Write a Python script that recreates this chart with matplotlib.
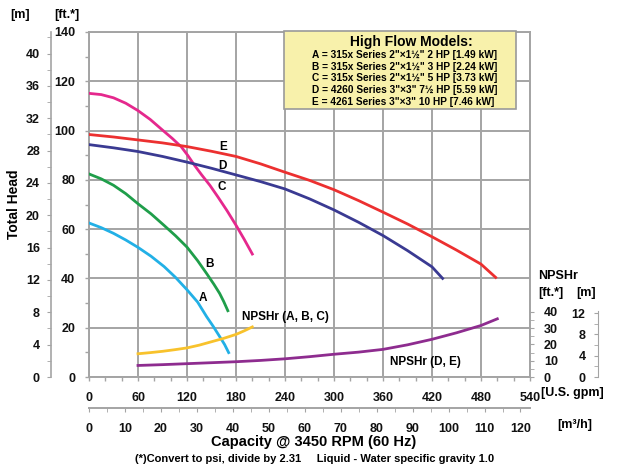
import matplotlib
matplotlib.use('Agg')
import matplotlib.pyplot as plt
from matplotlib.patches import Rectangle
from matplotlib.ticker import MultipleLocator, FixedLocator

plt.rcParams['font.family'] = ['Liberation Sans', 'DejaVu Sans']
plt.rcParams['font.weight'] = 'bold'

# ---------------- data ----------------
gpm_a = [0, 15, 30, 45, 60, 76, 92, 106, 120, 133, 144, 152, 160, 166, 171]
head_a = [62.5, 60.6, 58.3, 55.6, 52.6, 49.0, 44.8, 40.4, 35.4, 30.4, 24.5, 20.6, 16.4, 13.2, 9.9]

gpm_b = [0, 15, 30, 45, 60, 76, 92, 106, 120, 133, 144, 153, 160, 165, 170]
head_b = [82.4, 80.4, 77.8, 74.4, 70.3, 66.2, 61.5, 57.3, 52.7, 47.2, 42.0, 37.6, 33.9, 30.6, 26.9]

gpm_c = [0, 15, 30, 45, 60, 75, 90, 102, 113, 121, 129, 138, 148, 158, 169, 180, 190, 200]
head_c = [115.1, 114.6, 113.3, 111.1, 108.1, 104.5, 100.2, 96.8, 93.4, 89.9, 86.0, 82.0,
          77.8, 73.0, 67.5, 61.6, 55.9, 49.9]

gpm_d = [0, 30, 60, 90, 120, 150, 180, 210, 240, 270, 300, 330, 360, 390, 420, 433]
head_d = [94.3, 93.0, 91.5, 89.5, 87.2, 84.7, 82.0, 79.3, 76.3, 72.3, 67.8, 62.8, 57.4,
          51.3, 44.7, 40.0]

gpm_e = [0, 30, 60, 90, 120, 150, 180, 210, 240, 270, 300, 330, 360, 390, 420, 450, 480, 498]
head_e = [98.4, 97.4, 96.2, 95.0, 93.5, 91.6, 89.5, 86.5, 83.1, 79.8, 76.0, 71.6, 66.9,
          62.1, 56.9, 51.5, 45.8, 40.4]

gpm_npsh_abc = [60, 75, 90, 105, 120, 135, 150, 165, 180, 190, 200]
npsh_abc = [14.3, 15.0, 15.8, 16.8, 17.9, 19.6, 21.7, 23.8, 26.2, 28.4, 30.8]

gpm_npsh_de = [60, 90, 120, 150, 180, 210, 240, 270, 300, 330, 360, 390, 420, 450, 480, 500]
npsh_de = [7.1, 7.6, 8.2, 8.8, 9.4, 10.2, 11.2, 12.5, 14.0, 15.3, 17.0, 19.8, 23.2, 27.2, 31.7, 35.8]

legend_title = "High Flow Models:"
legend_lines = [
    'A = 315x Series 2"\u00d71\u00bd" 2 HP [1.49 kW]',
    'B = 315x Series 2"\u00d71\u00bd" 3 HP [2.24 kW]',
    'C = 315x Series 2"\u00d71\u00bd" 5 HP [3.73 kW]',
    'D = 4260 Series 3"\u00d73" 7\u00bd HP [5.59 kW]',
    'E = 4261 Series 3"\u00d73" 10 HP [7.46 kW]',
]
gpm_ticks = [0, 60, 120, 180, 240, 300, 360, 420, 480, 540]
ft_ticks = [0, 20, 40, 60, 80, 100, 120, 140]
m_ticks = [0, 4, 8, 12, 16, 20, 24, 28, 32, 36, 40]
m3h_ticks = [0, 10, 20, 30, 40, 50, 60, 70, 80, 90, 100, 110, 120]
npsh_ft_ticks = [0, 10, 20, 30, 40]
npsh_m_ticks = [0, 4, 8, 12]

# ---------------- layout ----------------
W, H = 617, 468
fig = plt.figure(figsize=(W / 100, H / 100), dpi=100)
L, R, B, T = 89, 530, 377, 32
ax = fig.add_axes([L / W, 1 - B / H, (R - L) / W, (B - T) / H])

def fx(x):
    return x / W

def fy(y):
    return 1 - y / H

GRID = '#a4a4a4'
FT_TO_M = 1 / 3.2808
GPM_TO_M3H = 0.22712
NPSH_TOP = 212.3  # NPSHr ft at top of plot area

ax.set_xlim(0, 540)
ax.set_ylim(0, 140)
ax.set_xticks(gpm_ticks)
ax.set_yticks(ft_ticks)
ax.xaxis.set_minor_locator(MultipleLocator(20))
ax.yaxis.set_minor_locator(MultipleLocator(10))
ax.grid(True, which='major', color=GRID, lw=1.4)
ax.set_axisbelow(True)
for s in ax.spines.values():
    s.set_color(GRID)
    s.set_linewidth(1.4)
ax.tick_params(which='both', colors=GRID, labelcolor='#111111', length=3, width=1)
ax.tick_params(axis='y', which='both', pad=7, labelsize=9)
ax.tick_params(axis='x', which='both', pad=8, labelsize=9)
for t in ax.get_xticklabels() + ax.get_yticklabels():
    t.set_fontweight('bold')

lw = 2.0
ax.plot(gpm_a, head_a, color='#22b0e6', lw=lw, zorder=3)
ax.plot(gpm_b, head_b, color='#1f9e4a', lw=lw, zorder=3)
ax.plot(gpm_c, head_c, color='#e5288d', lw=lw, zorder=3)
ax.plot(gpm_d, head_d, color='#3a3a92', lw=lw, zorder=3)
ax.plot(gpm_e, head_e, color='#ec3030', lw=lw, zorder=3)

lab = dict(fontsize=8.5, fontweight='bold', ha='center', va='center', zorder=4)
ax.text(164, 93.5, 'E', **lab)
ax.text(164, 85.8, 'D', **lab)
ax.text(163, 77.0, 'C', **lab)
ax.text(148, 45.9, 'B', **lab)
ax.text(139, 32.0, 'A', **lab)

# NPSHr axis (ft)
ax_n = ax.twinx()
ax_n.set_ylim(0, NPSH_TOP)
ax_n.patch.set_visible(False)
for s in ax_n.spines.values():
    s.set_visible(False)
ax_n.yaxis.set_major_locator(FixedLocator(npsh_ft_ticks))
ax_n.yaxis.set_minor_locator(FixedLocator([5, 15, 25, 35]))
ax_n.tick_params(axis='y', which='both', colors=GRID, labelcolor='#111111', length=3, pad=7, labelsize=9)
for t in ax_n.get_yticklabels():
    t.set_fontweight('bold')
ax_n.plot(gpm_npsh_abc, npsh_abc, color='#f8c22c', lw=lw, zorder=3)
ax_n.plot(gpm_npsh_de, npsh_de, color='#8e2c8f', lw=lw, zorder=3)
ax.text(187, 24.2, 'NPSHr (A, B, C)', fontsize=8.5, fontweight='bold', ha='left', va='center')
ax.text(368, 6.2, 'NPSHr (D, E)', fontsize=8.5, fontweight='bold', ha='left', va='center')

# NPSHr axis (m)
ax_nm = ax.twinx()
ax_nm.set_ylim(0, NPSH_TOP * FT_TO_M)
ax_nm.patch.set_visible(False)
for k, s in ax_nm.spines.items():
    s.set_visible(k == 'left')
ax_nm.spines['left'].set_position(('axes', (598 - L) / (R - L)))
ax_nm.spines['left'].set_bounds(0, 12.3)
ax_nm.spines['left'].set_color(GRID)
ax_nm.yaxis.set_ticks_position('left')
ax_nm.yaxis.set_label_position('left')
ax_nm.yaxis.set_major_locator(FixedLocator(npsh_m_ticks))
ax_nm.yaxis.set_minor_locator(FixedLocator([2, 6, 10]))
ax_nm.tick_params(axis='y', which='both', colors=GRID, labelcolor='#111111', length=3, pad=6, labelsize=9)
for t in ax_nm.get_yticklabels():
    t.set_fontweight('bold')

# left metre axis
ax_m = ax.twinx()
ax_m.set_ylim(0, 140 * FT_TO_M)
ax_m.patch.set_visible(False)
for k, s in ax_m.spines.items():
    s.set_visible(k == 'left')
ax_m.spines['left'].set_position(('axes', (51 - L) / (R - L)))
ax_m.spines['left'].set_color(GRID)
ax_m.spines['left'].set_linewidth(1.2)
ax_m.yaxis.set_ticks_position('left')
ax_m.yaxis.set_major_locator(FixedLocator(m_ticks))
ax_m.yaxis.set_minor_locator(MultipleLocator(2))
ax_m.tick_params(axis='y', which='both', colors=GRID, labelcolor='#111111', length=3, pad=5, labelsize=9)
for t in ax_m.get_yticklabels():
    t.set_fontweight('bold')

# secondary x axis m3/h
sec = ax.secondary_xaxis(-(408 - B) / (B - T),
                         functions=(lambda g: g * GPM_TO_M3H, lambda m: m / GPM_TO_M3H))
sec.set_xticks(m3h_ticks)
sec.xaxis.set_minor_locator(MultipleLocator(5))
sec.spines['bottom'].set_color(GRID)
sec.spines['bottom'].set_linewidth(1.4)
sec.tick_params(which='both', colors=GRID, labelcolor='#111111', length=3, pad=8, labelsize=9)
for t in sec.get_xticklabels():
    t.set_fontweight('bold')

# texts
fig.text(fx(20), fy(15), '[m]', fontsize=9, fontweight='bold', ha='center', va='center')
fig.text(fx(67), fy(15), '[ft.*]', fontsize=9, fontweight='bold', ha='center', va='center')
fig.text(fx(14), fy(204), 'Total Head', fontsize=10, fontweight='bold', rotation=90, ha='center', va='center')
fig.text(fx(538), fy(276), 'NPSHr', fontsize=9, fontweight='bold', ha='left', va='center')
fig.text(fx(538), fy(293), '[ft.*]', fontsize=9, fontweight='bold', ha='left', va='center')
fig.text(fx(576), fy(293), '[m]', fontsize=9, fontweight='bold', ha='left', va='center')
fig.text(fx(541), fy(393), '[U.S. gpm]', fontsize=9, fontweight='bold', ha='left', va='center')
fig.text(fx(557), fy(425), '[m\u00b3/h]', fontsize=9, fontweight='bold', ha='left', va='center')
fig.text(fx(314), fy(442), 'Capacity @ 3450 RPM (60 Hz)', fontsize=10.5, fontweight='bold', ha='center', va='center')
fig.text(fx(315), fy(459), '(*)Convert to psi, divide by 2.31     Liquid - Water specific gravity 1.0',
         fontsize=8, fontweight='bold', ha='center', va='center')

# legend box
box = Rectangle((fx(284), fy(109)), fx(516) - fx(284), fy(31) - fy(109), transform=fig.transFigure,
                facecolor='#f8f1ab', edgecolor='#9a9a9a', lw=1.2, zorder=10)
fig.add_artist(box)
fig.text(fx(411), fy(42), legend_title, fontsize=10, fontweight='bold', ha='center', va='center', zorder=11)
for i, line in enumerate(legend_lines):
    fig.text(fx(312), fy(55 + i * 11.7), line, fontsize=7.3, fontweight='bold', ha='left', va='center', zorder=11)

fig.savefig('out.png', dpi=100)
